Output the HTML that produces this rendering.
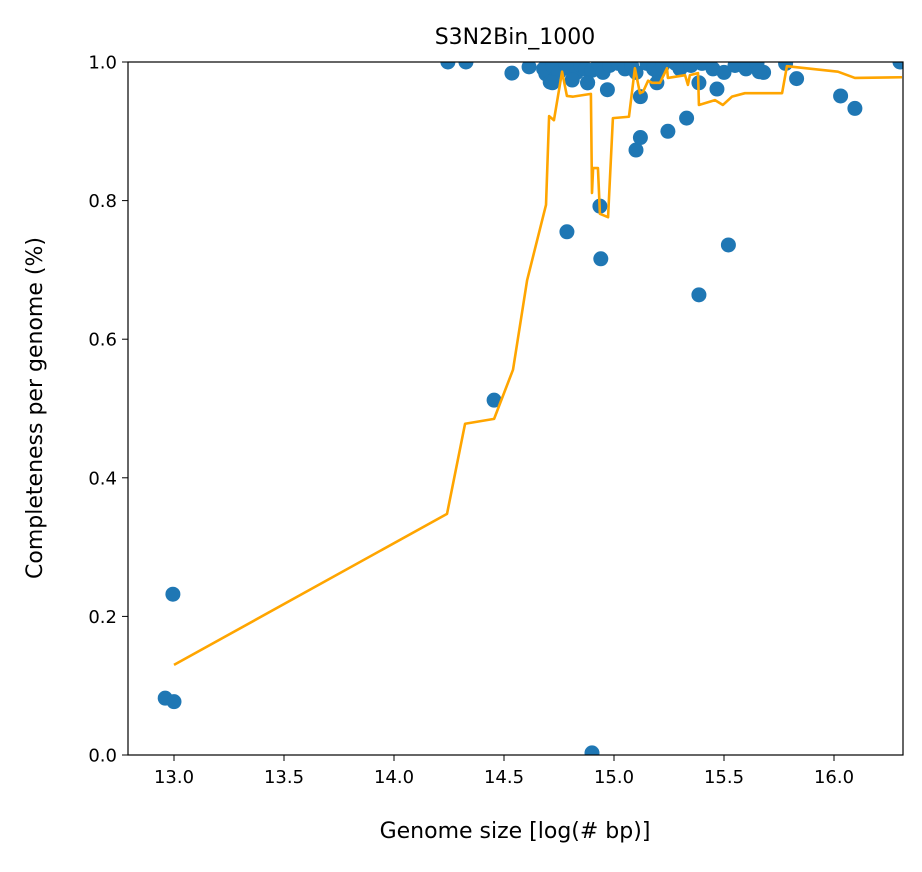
<!DOCTYPE html>
<html><head><meta charset="utf-8"><style>
body{margin:0;background:#fff;font-family:"Liberation Sans","DejaVu Sans",sans-serif;}
</style></head><body>
<svg id="chart" width="922" height="867" style="font-family:'DejaVu Sans','Liberation Sans',sans-serif">
<defs><clipPath id="clip"><rect x="128" y="62" width="775" height="693"/></clipPath></defs>
<text x="515" y="44" text-anchor="middle" font-size="22">S3N2Bin_1000</text>
<g id="points" clip-path="url(#clip)"></g>
<g id="line" clip-path="url(#clip)"></g>
<rect x="128" y="62" width="775" height="693" fill="none" stroke="#000" stroke-width="1.2"/>
<g id="axes"></g>
<text x="515" y="838" text-anchor="middle" font-size="22">Genome size [log(# bp)]</text>
<text transform="translate(42,408) rotate(-90)" text-anchor="middle" font-size="22">Completeness per genome (%)</text>
</svg>
<script>
const xTicks=[13.0,13.5,14.0,14.5,15.0,15.5,16.0];
const yTicks=[0.0,0.2,0.4,0.6,0.8,1.0];
const pointX=[12.96,13.0,12.995,14.245,14.327,14.455,14.536,14.614,14.69,14.71,14.786,14.88,14.9,14.936,14.94,14.97,15.12,15.1,15.12,15.245,15.33,15.386,15.386,15.468,15.52,15.83,16.03,16.095,16.3,
14.68,14.72,14.75,14.78,14.8,14.83,14.85,14.87,14.9,14.93,14.95,14.98,15.02,15.05,15.08,15.1,15.15,15.18,15.2,15.22,15.28,15.3,15.35,15.4,15.45,15.5,15.55,15.6,15.65,15.68,15.78,14.72,14.81,14.88,15.195,15.66];
const pointY=[0.082,0.077,0.232,1.0,1.0,0.512,0.984,0.993,0.983,0.971,0.755,0.97,0.003,0.792,0.716,0.96,0.95,0.873,0.891,0.9,0.919,0.97,0.664,0.961,0.736,0.976,0.951,0.933,1.0,
0.99,0.995,0.985,0.998,0.99,0.985,0.995,0.99,0.988,0.998,0.985,0.995,0.998,0.99,0.995,0.985,0.998,0.99,0.985,0.995,0.998,0.99,0.995,0.998,0.99,0.985,0.995,0.99,0.998,0.985,0.998,0.97,0.974,0.97,0.97,0.986];
const lineX=[13.0,14.241,14.323,14.455,14.541,14.605,14.691,14.705,14.727,14.764,14.786,14.814,14.895,14.9,14.905,14.927,14.936,14.973,14.995,15.068,15.095,15.118,15.132,15.155,15.173,15.209,15.241,15.245,15.323,15.336,15.345,15.382,15.386,15.459,15.495,15.536,15.595,15.764,15.786,16.018,16.095,16.309];
const lineY=[0.130,0.348,0.478,0.485,0.556,0.685,0.794,0.922,0.916,0.986,0.951,0.950,0.954,0.811,0.847,0.847,0.781,0.776,0.919,0.921,0.991,0.955,0.957,0.973,0.970,0.970,0.991,0.977,0.981,0.967,0.981,0.984,0.938,0.945,0.938,0.950,0.955,0.955,0.994,0.986,0.977,0.978];
const NS='http://www.w3.org/2000/svg';
const sx=v=>174+(v-13)*220;
const sy=v=>755-v*693;
const pg=document.getElementById('points');
for(let i=0;i<pointX.length;i++){
 const c=document.createElementNS(NS,'circle');
 c.setAttribute('cx',sx(pointX[i]));c.setAttribute('cy',sy(pointY[i]));c.setAttribute('r',7.5);c.setAttribute('fill','#1f77b4');
 
 
 pg.appendChild(c);
}
const pl=document.createElementNS(NS,'polyline');
pl.setAttribute('points',lineX.map((x,i)=>sx(x)+','+sy(lineY[i])).join(' '));
pl.setAttribute('fill','none');pl.setAttribute('stroke','#ffa500');pl.setAttribute('stroke-width',2.6);pl.setAttribute('stroke-linejoin','round');


document.getElementById('line').appendChild(pl);
const ax=document.getElementById('axes');
xTicks.forEach(t=>{
 const l=document.createElementNS(NS,'line');
 l.setAttribute('x1',sx(t));l.setAttribute('x2',sx(t));l.setAttribute('y1',755);l.setAttribute('y2',761);l.setAttribute('stroke','#000');
 
 
 ax.appendChild(l);
 const tx=document.createElementNS(NS,'text');
 tx.setAttribute('x',sx(t));tx.setAttribute('y',783);tx.setAttribute('text-anchor','middle');tx.setAttribute('font-size','18');
 tx.textContent=t.toFixed(1);
 
 
 ax.appendChild(tx);
});
yTicks.forEach(t=>{
 const l=document.createElementNS(NS,'line');
 l.setAttribute('x1',122);l.setAttribute('x2',128);l.setAttribute('y1',sy(t));l.setAttribute('y2',sy(t));l.setAttribute('stroke','#000');
 
 
 ax.appendChild(l);
 const tx=document.createElementNS(NS,'text');
 tx.setAttribute('x',117);tx.setAttribute('y',sy(t)+6.5);tx.setAttribute('text-anchor','end');tx.setAttribute('font-size','18');
 tx.textContent=t.toFixed(1);
 
 
 ax.appendChild(tx);
});
</script>
</body></html>
